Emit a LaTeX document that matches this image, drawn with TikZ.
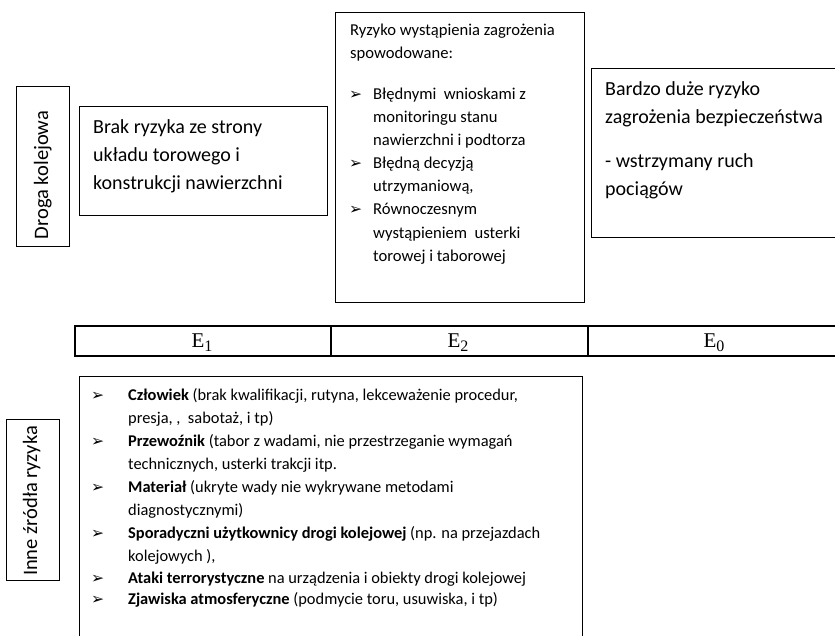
\documentclass[tikz,border=0pt]{standalone}
\usepackage{fontspec}
\setmainfont{Carlito}
\newfontfamily\dejavu{DejaVu Sans}
\newfontfamily\serif{Liberation Serif}
\newcommand{\arrbul}{\scalebox{1.3}{➢}}
\begin{document}
\begin{tikzpicture}[x=1pt,y=-1pt,
  box/.style={draw, line width=1.2pt, inner sep=0pt, anchor=north west},
  ebox/.style={draw, line width=1.9pt, inner sep=0pt, anchor=north west, minimum height=30pt},
  big/.style={anchor=base west, inner sep=0pt, font=\fontsize{20}{24}\selectfont},
  mid/.style={anchor=base west, inner sep=0pt, font=\fontsize{16.6}{20}\selectfont},
  low/.style={anchor=base west, inner sep=0pt, font=\fontsize{16.4}{20}\selectfont},
  bul/.style={anchor=base west, inner sep=0pt, font=\dejavu\fontsize{12}{14}\selectfont},
  side/.style={anchor=base, inner sep=0pt, rotate=90, font=\fontsize{20.5}{24}\selectfont},
  elab/.style={inner sep=0pt, anchor=base, font=\serif\fontsize{21}{24}\selectfont}]
\useasboundingbox (0,0) rectangle (835,635);
\clip (0,0) rectangle (835,635);

% boxes
\node[box, minimum width=53pt, minimum height=160pt] (droga) at (16,86) {};
\node[box, minimum width=248pt, minimum height=109pt] (brak) at (79,106) {};
\node[box, minimum width=249pt, minimum height=290pt] (midbox) at (335,12) {};
\node[box, minimum width=270pt, minimum height=169pt] (right) at (591,68) {};
\node[box, minimum width=53pt, minimum height=161pt] (inne) at (6,419) {};
\node[box, minimum width=503pt, minimum height=280pt] (lowbox) at (79,376) {};

% E bar
\node[ebox, minimum width=256pt] (e1) at (74,325) {};
\node[ebox, minimum width=257pt] (e2) at (330,325) {};
\node[ebox, minimum width=270pt] (e0) at (587,325) {};
\node[elab] (e1t) at (202,347) {E\raisebox{-4pt}{\fontsize{16}{16}\selectfont 1}};
\node[elab] (e2t) at (458,347) {E\raisebox{-4pt}{\fontsize{16}{16}\selectfont 2}};
\node[elab] (e0t) at (714,347) {E\raisebox{-4pt}{\fontsize{16}{16}\selectfont 0}};

% side labels
\node[side] (drogat) at (48,175) {Droga kolejowa};
\node[side] (innet) at (37,501) {Inne źródła ryzyka};

% Brak box
\node[big] (b1) at (93,133) {Brak ryzyka ze strony};
\node[big] (b2) at (93,161) {układu torowego i};
\node[big] (b3) at (93,189) {konstrukcji nawierzchni};

% middle box
\node[mid] (m1) at (350,35) {Ryzyko wystąpienia zagrożenia};
\node[mid] (m2) at (350,58) {spowodowane:};
\node[bul] (mb1) at (349,99) {\arrbul};
\node[mid] (m3) at (373,99) {Błędnymi\ \ wnioskami z};
\node[mid] (m4) at (373,122) {monitoringu stanu};
\node[mid] (m5) at (373,145) {nawierzchni i podtorza};
\node[bul] (mb2) at (349,168.5) {\arrbul};
\node[mid] (m6) at (373,168.5) {Błędną decyzją};
\node[mid] (m7) at (373,191.5) {utrzymaniową,};
\node[bul] (mb3) at (349,214.5) {\arrbul};
\node[mid] (m8) at (373,214.5) {Równoczesnym};
\node[mid] (m9) at (373,238) {wystąpieniem\ \ usterki};
\node[mid] (m10) at (373,261) {torowej i taborowej};

% right box
\node[big] (r1) at (605,95) {Bardzo duże ryzyko};
\node[big] (r2) at (605,123) {zagrożenia bezpieczeństwa};
\node[big] (r3) at (605,167) {- wstrzymany ruch};
\node[big] (r4) at (605,195) {pociągów};

% lower box
\node[bul] (lb1) at (91,400) {\arrbul};
\node[low] (l1) at (128,400) {\textbf{Człowiek} (brak kwalifikacji, rutyna, lekceważenie procedur,};
\node[low] (l2) at (128,423) {presja, ,\ \ sabotaż, i tp)};
\node[bul] (lb2) at (91,446) {\arrbul};
\node[low] (l3) at (128,446) {\textbf{Przewoźnik} (tabor z wadami, nie przestrzeganie wymagań};
\node[low] (l4) at (128,469) {technicznych, usterki trakcji itp.};
\node[bul] (lb3) at (91,492) {\arrbul};
\node[low] (l5) at (128,492) {\textbf{Materiał} (ukryte wady nie wykrywane metodami};
\node[low] (l6) at (128,515) {diagnostycznymi)};
\node[bul] (lb4) at (91,538) {\arrbul};
\node[low] (l7) at (128,538) {\textbf{Sporadyczni użytkownicy drogi kolejowej} (np. na przejazdach};
\node[low] (l8) at (128,561) {kolejowych ),};
\node[bul] (lb5) at (91,583) {\arrbul};
\node[low] (l9) at (128,583) {\textbf{Ataki terrorystyczne} na urządzenia i obiekty drogi kolejowej};
\node[bul] (lb6) at (91,604) {\arrbul};
\node[low] (l10) at (128,604) {\textbf{Zjawiska atmosferyczne} (podmycie toru, usuwiska, i tp)};
\end{tikzpicture}
\end{document}
